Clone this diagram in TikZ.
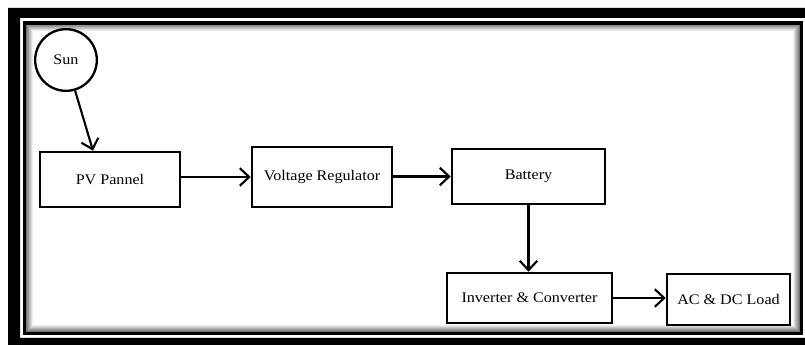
\documentclass[tikz,border=0pt]{standalone}
\usepackage{fontspec}
\setmainfont{Liberation Serif}[FakeStretch=1.1]
\usetikzlibrary{arrows.meta,calc}

\begin{document}
\begin{tikzpicture}[x=0.03cm,y=-0.03cm,
    block/.style={draw,line width=2.2pt,inner sep=0pt,font=\fontsize{12.5}{14}\selectfont},
    link/.style={line width=1.8pt,-{Straight Barb[length=8pt,width=15pt,line width=1.8pt]}}]
        \useasboundingbox (0,0) rectangle (805,345);
        % Frame
        \fill[black,even odd rule] (8,8) rectangle (830,370) (20,18) rectangle (806,338);
        \foreach \i in {1,...,8}
            \draw[black!\the\numexpr 70-8*\i\relax,line width=0.03cm] (24.5+\i,23+\i) rectangle (801.5-\i,333.5-\i);
        \draw[line width=2.6pt] (24.5,23) rectangle (801.5,333.5);
        % Sun
        \node[circle,draw,line width=2pt,minimum size=1.85cm,font=\fontsize{12.5}{14}\selectfont] (sun) at (66,60) {Sun};
        % Top row
        \node[block,minimum width=140*0.03cm,minimum height=55*0.03cm] (pv) at (110,179.5) {PV Pannel};
        \node[block,minimum width=140*0.03cm,minimum height=60*0.03cm] (vr) at (322,177) {Voltage Regulator};
        \node[block,minimum width=153*0.03cm,minimum height=55*0.03cm] (bat) at (528.5,176.5) {Battery};
        % Bottom row
        \node[block,minimum width=165*0.03cm,minimum height=50*0.03cm] (inv) at (529.5,298) {Inverter \& Converter};
        \node[block,minimum width=123*0.03cm,minimum height=51*0.03cm] (load) at (728.5,299.5) {AC \& DC Load};
        % Arrows
        \draw[link] (sun) -- ($(pv.north)+(-17,0)$);
        \draw[link] (pv.east |- vr) -- (vr.west);
        \draw[link] (vr.east |- bat) -- (bat.west);
        \draw[link] (bat.south) -- (bat.south |- inv.north);
        \draw[link] (inv.east) -- (inv.east -| load.west);
    \end{tikzpicture}
\end{document}
